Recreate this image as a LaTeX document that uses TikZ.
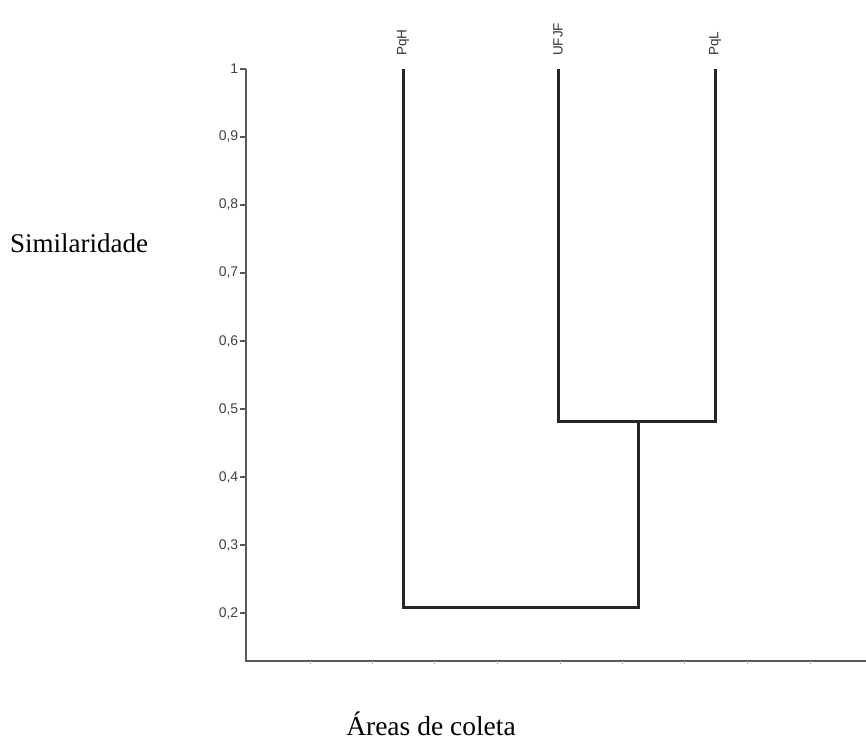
\documentclass[tikz,border=0pt]{standalone}
\usepackage{fontspec}
\setmainfont{Liberation Serif}
\newfontfamily\axisfont{Liberation Sans}
\usepackage{tikz}

\begin{document}
\begin{tikzpicture}[x=1pt,y=-1pt,
    axisline/.style={draw=gray!70!black,line width=1.5pt},
    branch/.style={draw=black!85,line width=3pt,line join=miter},
    ticklabel/.style={font=\axisfont\fontsize{14}{16}\selectfont,text=black!75,anchor=east,inner sep=1pt},
    leaflabel/.style={font=\axisfont\fontsize{13.5}{15}\selectfont,text=black!80,rotate=90,anchor=west,inner sep=0pt}]
    \useasboundingbox (0,0) rectangle (866,742);
    % axes
    \draw[axisline] (246,69) -- (246,661) -- (866,661);
    \foreach \k/\lab in {0/1,1/{0,9},2/{0,8},3/{0,7},4/{0,6},5/{0,5},6/{0,4},7/{0,3},8/{0,2}}
      \draw[axisline] (240,69+68*\k) -- (246,69+68*\k) node[ticklabel] at (240,69+68*\k) {\lab};
    \foreach \x in {310,372,434,497,560,622,684,747,810}
      \draw[gray!60,line width=1pt] (\x,661) -- (\x,664);
    % leaves
    \node[leaflabel] (pqh) at (403,56) {PqH};
    \node[leaflabel] (ufjf) at (558,56) {UFJF};
    \node[leaflabel] (pql) at (715,56) {PqL};
    \coordinate (h) at (403,69);
    \coordinate (u) at (558,69);
    \coordinate (l) at (715,69);
    \coordinate (ul) at (638,421);
    \coordinate (root) at (520,607);
    % branches
    \draw[branch] (u) |- (ul) -| (l);
    \draw[branch] (h) |- (root) -| (ul);
    % titles
    \node[anchor=base,font=\fontsize{27}{30}\selectfont] (ylab) at (79,252) {Similaridade};
    \node[anchor=base,font=\fontsize{27.5}{30}\selectfont] (xlab) at (431,735) {Áreas de coleta};
  \end{tikzpicture}
\end{document}
